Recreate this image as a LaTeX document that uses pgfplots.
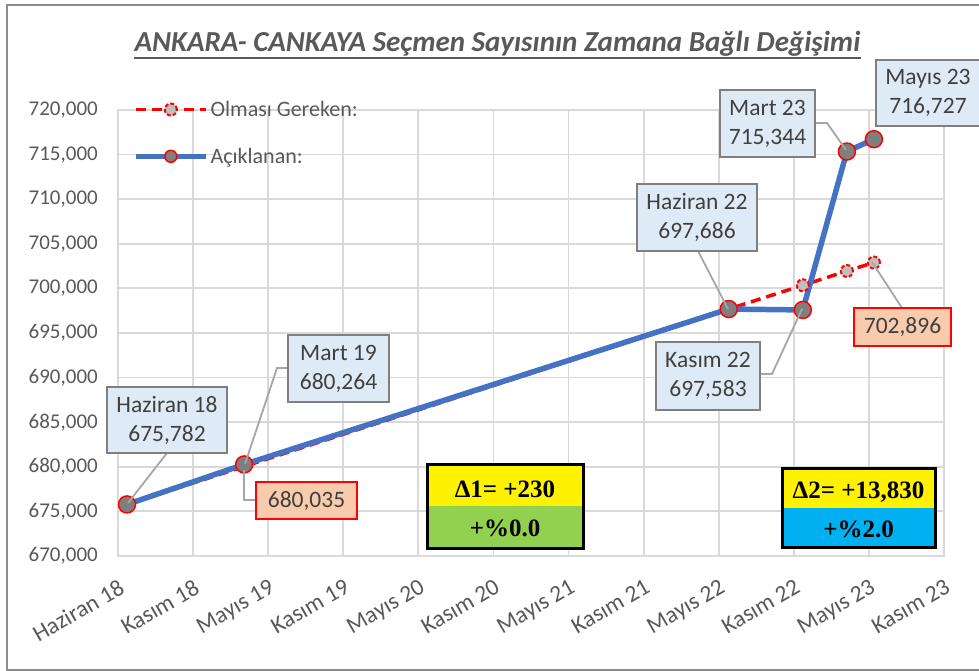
\documentclass[border=0pt]{standalone}
\usepackage{pgfplots}
\pgfplotsset{compat=1.18}
\usepackage{pgfplotstable}
\usepackage{fontspec}
\setmainfont{Carlito}
\newfontfamily\timesfont{Liberation Serif}
\definecolor{bluel}{HTML}{4472C4}
\definecolor{redl}{HTML}{FF0000}
\definecolor{mgray}{HTML}{7F7F7F}
\definecolor{lgray}{HTML}{BFBFBF}
\definecolor{calfill}{HTML}{DEEBF7}
\definecolor{calborder}{HTML}{7F7F7F}
\definecolor{caltext}{HTML}{404040}
\definecolor{redfill}{HTML}{F8CBAD}
\definecolor{gridc}{HTML}{D9D9D9}
\definecolor{tickc}{HTML}{595959}
\definecolor{leader}{HTML}{A6A6A6}
\definecolor{ygreen}{HTML}{92D050}
\definecolor{yblue}{HTML}{00B0F0}
\definecolor{frame}{HTML}{8C8C8C}

\pgfplotstableread{
x y
0.72 675782
10.08 680035
48.8 697686
54.72 700350
58.24 701950
60.4 702896
}\expected
\pgfplotstableread{
x y
0.72 675782
10.08 680264
48.8 697686
54.72 697583
58.24 715344
60.4 716727
}\declared

\tikzset{
  callout/.style={draw=calborder, line width=2pt, fill=calfill, text=caltext, inner sep=0pt, align=center,
    font=\fontsize{23.5}{29}\selectfont},
  redcall/.style={draw=redl, line width=2pt, fill=redfill, text=caltext, inner sep=0pt, align=center,
    font=\fontsize{23.5}{29}\selectfont},
  lead/.style={draw=leader, line width=1.8pt},
  dfont/.style={font=\timesfont\bfseries\fontsize{25}{29}\selectfont}
}

\begin{document}
\begin{tikzpicture}[x=1pt,y=1pt]
\fill[white] (0,0) rectangle (979,671);
\draw[frame, line width=2.5pt] (990,666) -- (7,666) -- (7,1) -- (990,1);

% title
\node[anchor=base, inner sep=0pt, text=tickc, font=\fontsize{29}{33}\selectfont\bfseries\itshape] (t) at (497.5,619)
  {ANKARA- CANKAYA Seçmen Sayısının Zamana Bağlı Değişimi};
\draw[tickc, line width=2pt] ([yshift=-6pt]t.base west) -- ([yshift=-6pt]t.base east);

\begin{axis}[
  at={(118pt,115pt)}, anchor=south west,
  scale only axis, width=826pt, height=446pt,
  xmin=0, xmax=66, ymin=670000, ymax=720000,
  xtick={0,6,...,66},
  xticklabels={Haziran 18, Kasım 18, Mayıs 19, Kasım 19, Mayıs 20, Kasım 20, Mayıs 21, Kasım 21, Mayıs 22, Kasım 22, Mayıs 23, Kasım 23},
  ytick={670000,675000,680000,685000,690000,695000,700000,705000,710000,715000,720000},
  yticklabels={{670,000},{675,000},{680,000},{685,000},{690,000},{695,000},{700,000},{705,000},{710,000},{715,000},{720,000}},
  scaled y ticks=false,
  grid=major,
  grid style={gridc, line width=1.8pt},
  axis line style={gridc, line width=1.8pt},
  major tick length=0pt,
  tick style={draw=none},
  clip=false,
  xticklabel style={rotate=30, anchor=north east, inner sep=0pt, text=tickc, font=\fontsize{23.5}{27}\selectfont},
  xticklabel shift=22pt,
  yticklabel style={anchor=east, inner sep=0pt, text=tickc, font=\fontsize{21}{25}\selectfont, xshift=-20pt},
  legend cell align=left,
  legend style={at={(0.018,1.0247)}, anchor=north west, draw=none, fill=none, inner sep=0pt,
    font=\fontsize{22}{26}\selectfont, text=tickc, row sep=26pt},
  legend image code/.code={\draw[mark repeat=2,mark phase=2,#1, mark size=6pt] plot coordinates {(0pt,0pt) (35pt,0pt) (70pt,0pt)};},
]
\addplot[color=redl, line width=3.5pt, dash pattern=on 10pt off 6pt, mark=*, mark size=6pt,
  mark options={fill=lgray, draw=redl, line width=2pt, dash pattern=on 4pt off 2pt}] table[x=x,y=y] {\expected};
\addlegendentry{Olması Gereken:}
\addplot[color=bluel, line width=5.5pt, line join=round, mark=*, mark size=8.5pt,
  mark options={fill=mgray, draw=redl, line width=1.5pt, solid}] table[x=x,y=y] {\declared};
\addlegendentry{Açıklanan:}
\end{axis}

% leaders
\draw[lead] (167,218) -- (128,168);
\draw[lead] (288,303) -- (277,303) -- (245,207);
\draw[lead] (244,201) -- (244,171) -- (256,171);
\draw[lead] (698,420) -- (728,362);
\draw[lead] (760,297) -- (772,297) -- (802,362);
\draw[lead] (815,548) -- (827,548) -- (846,521);
\draw[lead] (902,363) -- (872,409);

% callouts
\node[callout, minimum width=120pt, minimum height=66pt] at (167,251) {Haziran 18\\675,782};
\node[callout, minimum width=101pt, minimum height=67pt] at (338.5,302.5) {Mart 19\\680,264};
\node[redcall, minimum width=101pt, minimum height=37pt] at (306.5,170.5) {680,035};
\node[callout, minimum width=120pt, minimum height=67pt] at (697,453.5) {Haziran 22\\697,686};
\node[callout, minimum width=104pt, minimum height=68pt] at (708,295) {Kasım 22\\697,583};
\node[callout, minimum width=95pt, minimum height=67pt] at (767.5,547.5) {Mart 23\\715,344};
\node[callout, minimum width=104pt, minimum height=66pt] at (928,578) {Mayıs 23\\716,727};
\node[redcall, minimum width=97pt, minimum height=38pt] at (902.5,344) {702,896};

% delta boxes
\fill[yellow] (427,206) rectangle (583,165);
\fill[ygreen] (427,165) rectangle (583,122);
\draw[black, line width=3pt] (427,122) rectangle (583,206);
\node[dfont] at (505,182) {Δ1= +230};
\node[dfont] at (505,143) {+\%0.0};

\fill[yellow] (782,202) rectangle (935,163);
\fill[yblue] (782,163) rectangle (935,123);
\draw[black, line width=3pt] (782,123) rectangle (935,202);
\node[dfont] at (858.5,179) {Δ2= +13,830};
\node[dfont] at (858.5,142) {+\%2.0};

\pgfresetboundingbox
\useasboundingbox (0,0) rectangle (979,671);
\end{tikzpicture}
\end{document}
